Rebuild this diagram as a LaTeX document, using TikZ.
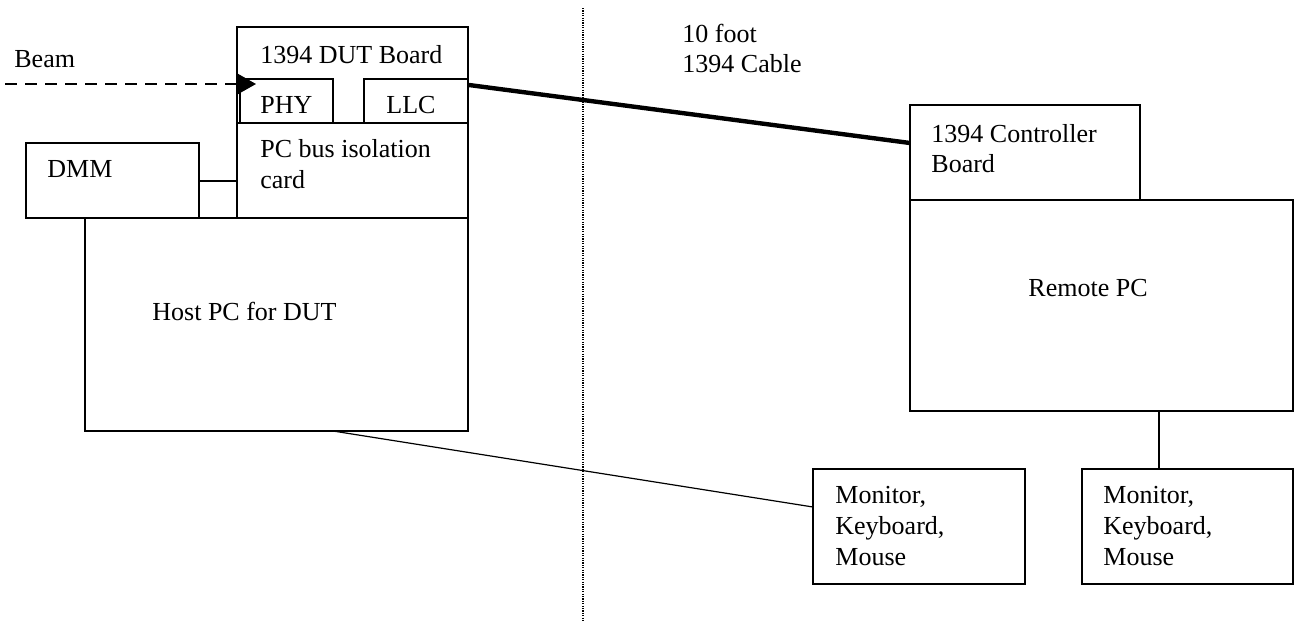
\documentclass[tikz,border=0pt]{standalone}
\usepackage{fontspec}
\setmainfont{Liberation Serif}
\usetikzlibrary{fit,arrows.meta}
\begin{document}
\begin{tikzpicture}[x=0.5pt,y=-0.5pt,
  box/.style={draw,line width=0.6pt,inner sep=0pt,rectangle},
  lbl/.style={anchor=base west,inner sep=0pt,font=\fontsize{13}{15}\selectfont},
  wire/.style={line width=0.6pt},
  cable/.style={line width=2.2pt},
  beam/.style={line width=1pt,dash pattern=on 6pt off 4pt,-{Triangle[length=9.5pt,width=10.5pt]}},
  divider/.style={line width=0.6pt,dash pattern=on 0.6pt off 0.6pt}]
\useasboundingbox (0,0) rectangle (1294,621);
% boxes
\node[box,fit={(237,27) (468,123)}] (dut) {};
\node[box,fit={(240,79) (333,123)}] (phy) {};
\node[box,fit={(364,79) (468,123)}] (llc) {};
\node[box,fit={(237,123) (468,218)}] (iso) {};
\node[box,fit={(26,143) (199,218)}] (dmm) {};
\node[box,fit={(85,218) (468,431)}] (host) {};
\node[box,fit={(910,105) (1140,200)}] (ctrl) {};
\node[box,fit={(910,200) (1293,411)}] (remote) {};
\node[box,fit={(813,469) (1025,584)}] (mon1) {};
\node[box,fit={(1082,469) (1293,584)}] (mon2) {};
% labels
\node[lbl] (tbeam) at (14,67) {Beam};
\node[lbl] (tdut) at (260,63) {1394 DUT Board};
\node[lbl] (tphy) at (260,113) {PHY};
\node[lbl] (tllc) at (386,113) {LLC};
\node[lbl] (tiso1) at (260,157) {PC bus isolation};
\node[lbl] (tiso2) at (260,188) {card};
\node[lbl] (tdmm) at (47,177) {DMM};
\node[lbl] (thost) at (152,320) {Host PC for DUT};
\node[lbl] (tcab1) at (682,42) {10 foot};
\node[lbl] (tcab2) at (682,72) {1394 Cable};
\node[lbl] (tctrl1) at (931,142) {1394 Controller};
\node[lbl] (tctrl2) at (931,172) {Board};
\node[lbl] (trem) at (1028,296) {Remote PC};
\node[lbl] (tm1a) at (835,503) {Monitor,};
\node[lbl] (tm1b) at (835,534) {Keyboard,};
\node[lbl] (tm1c) at (835,565) {Mouse};
\node[lbl] (tm2a) at (1103,503) {Monitor,};
\node[lbl] (tm2b) at (1103,534) {Keyboard,};
\node[lbl] (tm2c) at (1103,565) {Mouse};
% connector end points
\coordinate (beamstart) at (5,84);
\coordinate (beamend) at (256,84);
\coordinate (cabA) at (469,85);
\coordinate (cabB) at (910,143);
\coordinate (dmmR) at (199,181);
\coordinate (isoL) at (237,181);
\coordinate (hostB) at (333,431);
\coordinate (mon1L) at (813,507);
\coordinate (remB) at (1159,411);
\coordinate (mon2T) at (1159,469);
\coordinate (divT) at (583,8);
\coordinate (divB) at (583,621);
% connectors
\draw[divider] (divT) -- (divB);
\draw[beam] (beamstart) -- (beamend);
\draw[cable] (cabA) -- (cabB);
\draw[wire] (dmmR) -- (isoL);
\draw[wire] (hostB) -- (mon1L);
\draw[wire] (remB) -- (mon2T);
\end{tikzpicture}
\end{document}
